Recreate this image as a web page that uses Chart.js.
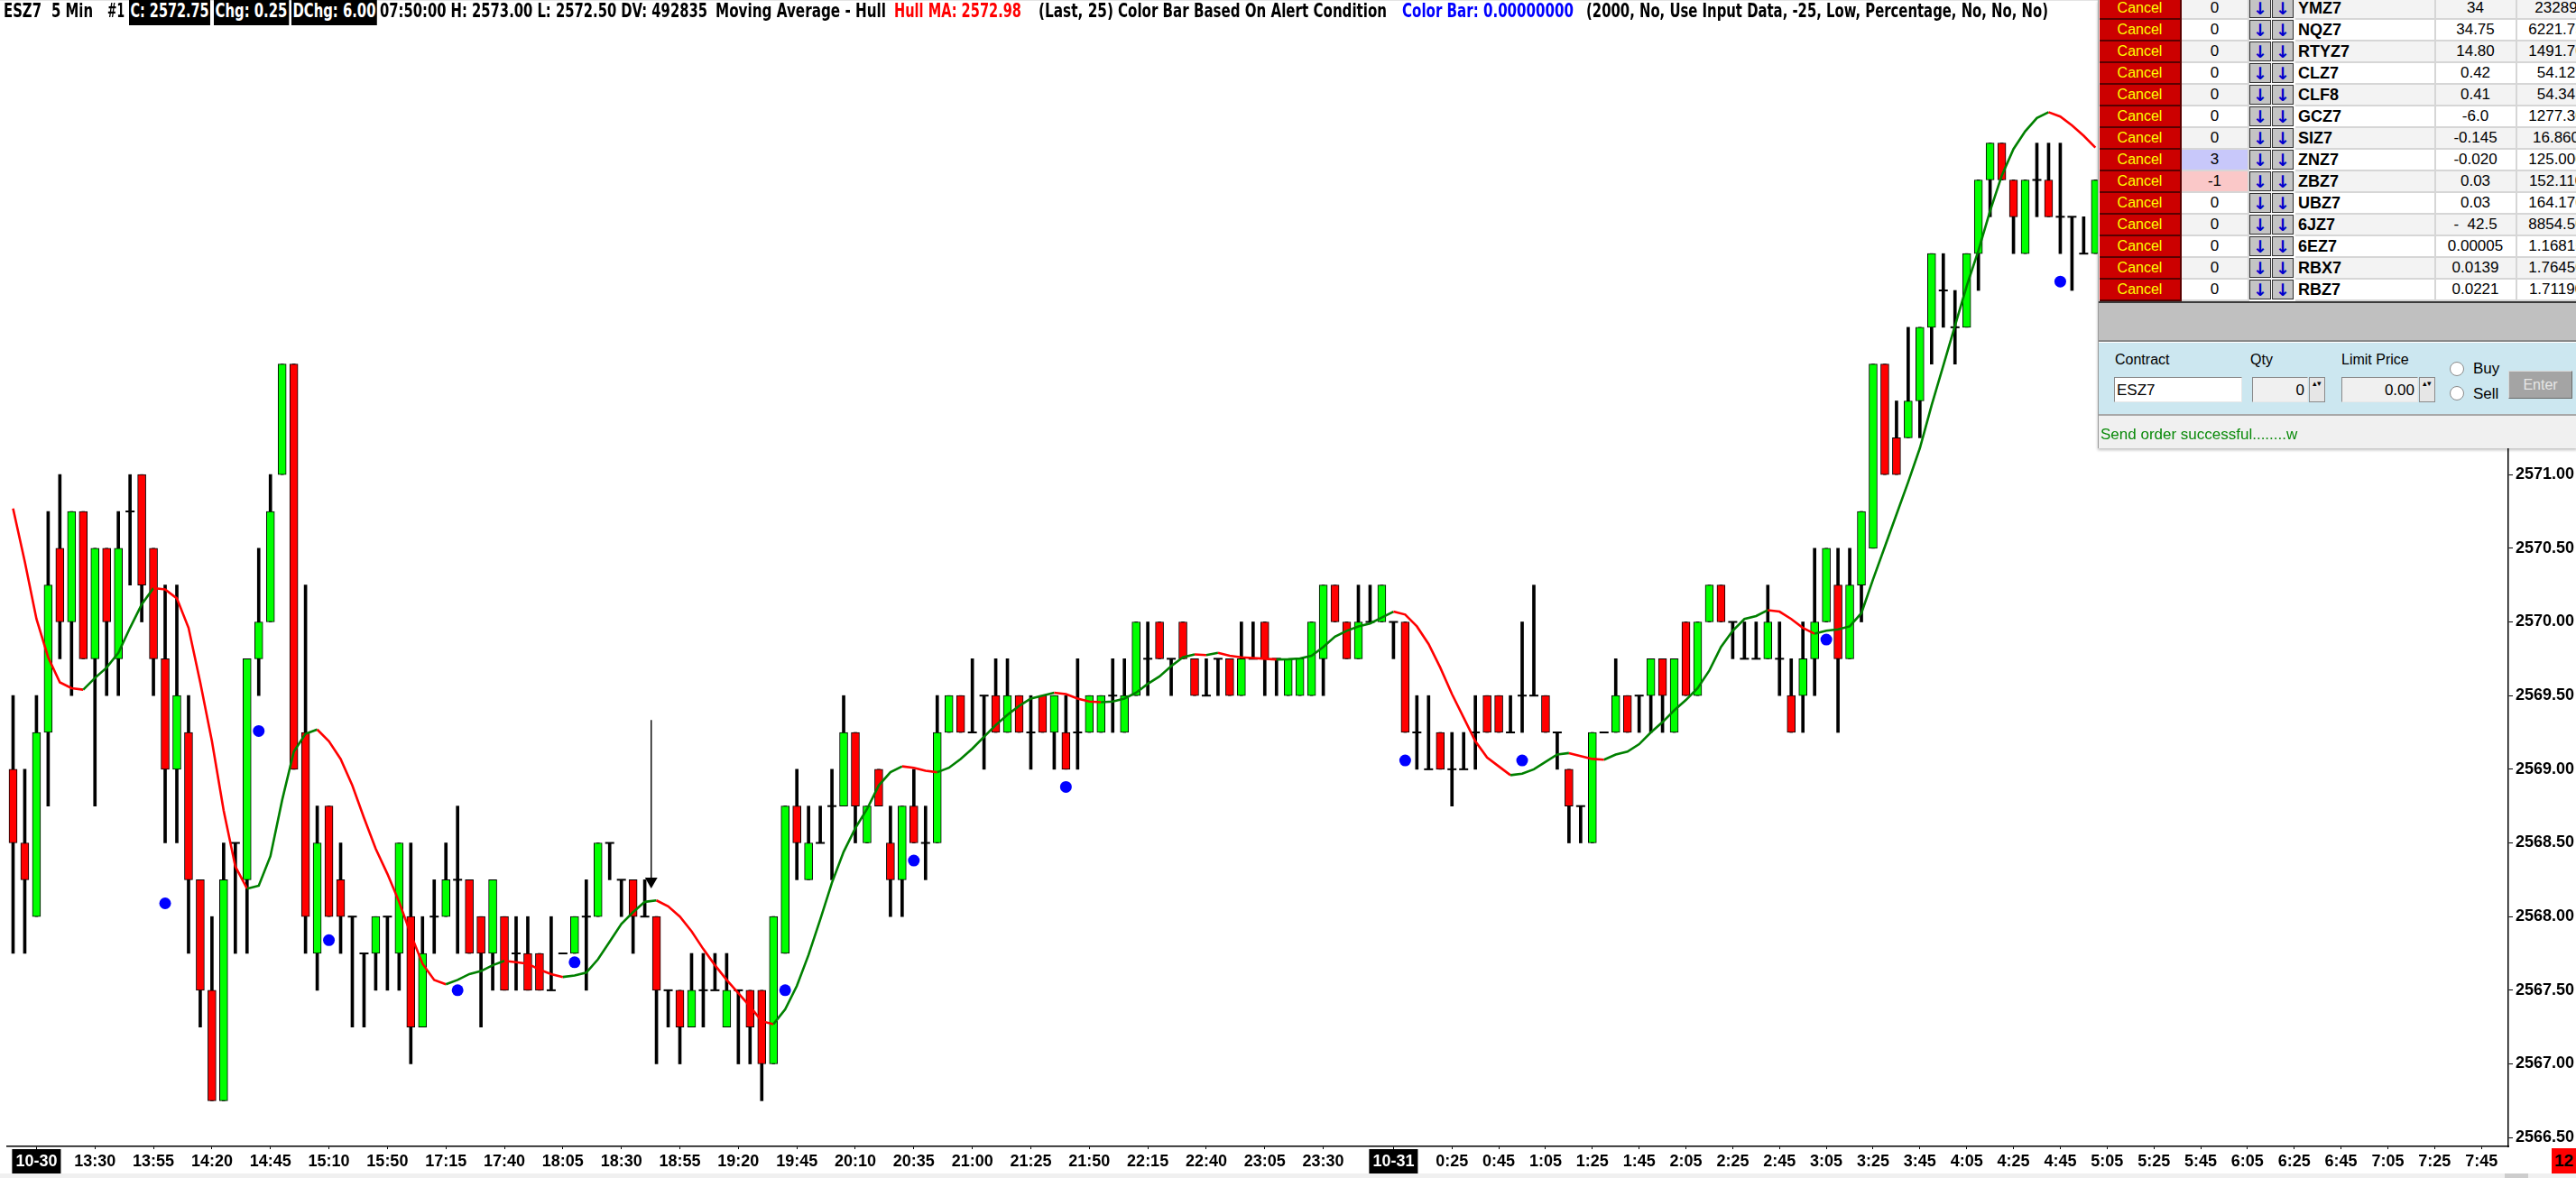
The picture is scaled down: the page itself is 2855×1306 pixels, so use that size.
<!DOCTYPE html>
<html>
<head>
<meta charset="utf-8">
<script src="https://cdn.jsdelivr.net/npm/chart.js@4.4.1/dist/chart.umd.min.js"></script>
<style>
html, body { margin: 0; padding: 0; background: #fff; width: 2855px; height: 1306px; overflow: hidden; position: relative; font-family: 'Liberation Sans', Arial, sans-serif; }
#chart { position: absolute; left: 0; top: 0; }
#topline { position: absolute; left: 0; top: 0; width: 2855px; height: 1px; background: #e4e4e4; }
.hd { position: absolute; top: 0; height: 28px; line-height: 28px; font: bold 21px 'Liberation Sans Narrow', 'DejaVu Sans Condensed', 'Liberation Sans', sans-serif; white-space: nowrap; transform-origin: 0 0; color: #000; }
.box { background: #000; color: #fff; padding: 0 2px; }
#panel { position: absolute; left: 2325px; top: 0; width: 530px; height: 497px; background: #f0f0f0; overflow: hidden; border-left: 1px solid #9a9a9a; box-shadow: 0 2px 3px rgba(0,0,0,0.25); }
.row { position: absolute; left: 0; width: 560px; height: 24px; }
.cell { position: absolute; top: 0; height: 22px; line-height: 22px; border-bottom: 2px solid #d6d6d6; border-right: 2px solid #d6d6d6; font-size: 17px; text-align: center; color: #000; white-space: nowrap; overflow: hidden; }
.cancel { background: #cc0000; color: #ffff00; font-size: 16px; border-right: 2px solid #5a0000; border-bottom: 2px solid #5a0000; }
.arr { background: #c4c4c4; color: #0000cc; font: bold 19px 'DejaVu Sans', sans-serif; border: 1px solid #333; height: 20px; line-height: 20px; }
.sym { text-align: left; font-weight: bold; font-size: 18px; padding-left: 3px; }
.lbl { position: absolute; font-size: 16px; color: #000; white-space: nowrap; }
.inp { position: absolute; height: 28px; line-height: 28px; font-size: 17px; border: 1px solid #8a8a8a; border-right-color: #e8e8e8; border-bottom-color: #e8e8e8; box-sizing: border-box; white-space: nowrap; }
.spin { position: absolute; width: 18px; height: 28px; background: #e6e6e6; border: 1px solid #8a8a8a; box-sizing: border-box; font-size: 9px; line-height: 13px; text-align: center; color: #000; }
.radio { position: absolute; width: 14px; height: 14px; border-radius: 50%; background: #fff; border: 1px solid #8a8a8a; }
</style>
</head>
<body>
<canvas id="chart" width="2855" height="1306"></canvas>
<div id="topline"></div>

<div class="hd" data-x="4" data-w="42">ESZ7</div>
<div class="hd" data-x="57" data-w="46">5 Min</div>
<div class="hd" data-x="119" data-w="19">#1</div>
<div class="hd box" data-x="143" data-w="90">C: 2572.75</div>
<div class="hd box" data-x="237" data-w="83">Chg: 0.25</div>
<div class="hd box" data-x="323" data-w="95">DChg: 6.00</div>
<div class="hd" data-x="421" data-w="363">07:50:00 H: 2573.00 L: 2572.50 DV: 492835</div>
<div class="hd" data-x="793" data-w="189">Moving Average - Hull</div>
<div class="hd" data-x="991" data-w="141" style="color:#ff0000">Hull MA: 2572.98</div>
<div class="hd" data-x="1151" data-w="83">(Last, 25)</div>
<div class="hd" data-x="1239" data-w="298">Color Bar Based On Alert Condition</div>
<div class="hd" data-x="1554" data-w="190" style="color:#0000ff">Color Bar: 0.00000000</div>
<div class="hd" data-x="1758" data-w="512">(2000, No, Use Input Data, -25, Low, Percentage, No, No, No)</div>

<div id="panel"></div>

<div style="position:absolute;left:2828px;top:1273px;width:27px;height:28px;background:#ff0000;font:bold 19px 'Liberation Sans',sans-serif;line-height:28px;padding-left:3px;box-sizing:border-box;overflow:hidden">12</div>
<div style="position:absolute;left:0;top:1301px;width:2855px;height:5px;background:#f0f0f0"></div>
<div style="position:absolute;left:2776px;top:1301px;width:26px;height:5px;background:#cdcdcd"></div>

<script>
// ---------- bars (5 min, index 0 = first bar on screen)
const opens = [
  2569.0, 2568.5, 2568.0, 2569.25, 2570.5, 2570.0, 2570.75, 2569.75, 2570.5, 2569.75,
  2570.75, 2571.0, 2570.5, 2569.75, 2569.0, 2569.25, 2568.25, 2567.5, 2566.75, 2568.5,
  2568.25, 2569.75, 2570.0, 2571.0, 2571.75, 2569.25, 2567.75, 2568.75, 2568.25, 2568.0,
  2567.75, 2567.75, 2568.0, 2567.75, 2568.0, 2567.25, 2568.0, 2568.0, 2568.25, 2568.25,
  2568.0, 2567.75, 2568.0, 2567.75, 2567.75, 2567.75, 2567.5, 2567.75, 2567.75, 2568.0,
  2568.0, 2568.5, 2568.25, 2568.25, 2568.0, 2568.0, 2567.5, 2567.5, 2567.25, 2567.5,
  2567.5, 2567.25, 2567.5, 2567.5, 2567.5, 2567.0, 2567.75, 2568.75, 2568.25, 2568.5,
  2568.75, 2568.75, 2569.25, 2568.5, 2569.0, 2568.5, 2568.25, 2568.75, 2568.5, 2568.5,
  2569.25, 2569.5, 2569.25, 2569.5, 2569.5, 2569.25, 2569.5, 2569.25, 2569.5, 2569.25,
  2569.25, 2569.25, 2569.25, 2569.25, 2569.5, 2569.25, 2569.5, 2569.75, 2570.0, 2569.75,
  2570.0, 2569.75, 2569.5, 2569.75, 2569.75, 2569.5, 2569.75, 2570.0, 2569.75, 2569.5,
  2569.5, 2569.5, 2569.75, 2570.25, 2570.0, 2569.75, 2570.0, 2570.0, 2570.0, 2570.0,
  2569.25, 2569.0, 2569.25, 2569.0, 2569.0, 2569.25, 2569.5, 2569.5, 2569.25, 2569.5,
  2569.5, 2569.5, 2569.25, 2569.0, 2568.75, 2568.5, 2569.25, 2569.25, 2569.5, 2569.5,
  2569.5, 2569.75, 2569.25, 2570.0, 2569.5, 2570.0, 2570.25, 2570.0, 2569.75, 2569.75,
  2569.75, 2569.75, 2569.5, 2569.5, 2569.75, 2570.0, 2570.25, 2569.75, 2570.25, 2570.5,
  2571.75, 2571.25, 2571.25, 2571.5, 2572.0, 2572.25, 2572.0, 2572.0, 2572.5, 2573.0,
  2573.25, 2573.0, 2572.5, 2573.0, 2573.0, 2572.75, 2572.75, 2572.5, 2572.5
]
const highs = [
  2569.5, 2569.0, 2569.5, 2570.75, 2571.0, 2570.75, 2570.75, 2570.5, 2570.5, 2570.75,
  2571.0, 2571.0, 2570.5, 2570.25, 2570.25, 2569.5, 2568.25, 2568.0, 2568.5, 2568.5,
  2569.75, 2570.5, 2571.0, 2571.75, 2571.75, 2570.25, 2568.75, 2568.75, 2568.5, 2568.0,
  2567.75, 2568.0, 2568.0, 2568.5, 2568.5, 2568.0, 2568.25, 2568.5, 2568.75, 2568.25,
  2568.0, 2568.25, 2568.0, 2568.0, 2568.0, 2567.75, 2568.0, 2567.75, 2568.0, 2568.25,
  2568.5, 2568.5, 2568.25, 2568.25, 2568.25, 2568.0, 2567.5, 2567.5, 2567.75, 2567.75,
  2567.75, 2567.75, 2567.5, 2567.5, 2567.5, 2568.0, 2568.75, 2569.0, 2568.75, 2568.75,
  2569.0, 2569.5, 2569.25, 2568.75, 2569.0, 2568.75, 2568.75, 2569.0, 2568.75, 2569.5,
  2569.5, 2569.5, 2569.75, 2569.5, 2569.75, 2569.75, 2569.5, 2569.5, 2569.5, 2569.5,
  2569.5, 2569.75, 2569.5, 2569.5, 2569.75, 2569.75, 2570.0, 2570.0, 2570.0, 2569.75,
  2570.0, 2569.75, 2569.75, 2569.75, 2569.75, 2570.0, 2570.0, 2570.0, 2569.75, 2569.75,
  2569.75, 2570.0, 2570.25, 2570.25, 2570.0, 2570.25, 2570.25, 2570.25, 2570.0, 2570.0,
  2569.5, 2569.5, 2569.25, 2569.25, 2569.25, 2569.5, 2569.5, 2569.5, 2569.5, 2570.0,
  2570.25, 2569.5, 2569.25, 2569.0, 2568.75, 2569.25, 2569.25, 2569.75, 2569.5, 2569.5,
  2569.75, 2569.75, 2569.75, 2570.0, 2570.0, 2570.25, 2570.25, 2570.0, 2570.0, 2570.0,
  2570.25, 2570.0, 2569.75, 2570.0, 2570.5, 2570.5, 2570.5, 2570.5, 2570.75, 2571.75,
  2571.75, 2571.5, 2572.0, 2572.0, 2572.5, 2572.5, 2572.25, 2572.5, 2573.0, 2573.25,
  2573.25, 2573.0, 2573.0, 2573.25, 2573.25, 2573.25, 2572.75, 2572.75, 2573.0
]
const lows = [
  2567.75, 2567.75, 2568.0, 2568.75, 2569.75, 2569.5, 2569.75, 2568.75, 2569.5, 2569.5,
  2570.25, 2570.0, 2569.5, 2568.5, 2568.5, 2567.75, 2567.25, 2566.75, 2566.75, 2567.75,
  2567.75, 2569.5, 2570.0, 2571.0, 2569.0, 2567.75, 2567.5, 2568.0, 2567.75, 2567.25,
  2567.25, 2567.5, 2567.5, 2567.5, 2567.0, 2567.25, 2567.75, 2568.0, 2567.75, 2567.75,
  2567.25, 2567.5, 2567.5, 2567.5, 2567.5, 2567.5, 2567.5, 2567.75, 2567.75, 2567.5,
  2568.0, 2568.25, 2568.0, 2567.75, 2568.0, 2567.0, 2567.25, 2567.0, 2567.25, 2567.25,
  2567.5, 2567.25, 2567.0, 2567.0, 2566.75, 2567.0, 2567.75, 2568.25, 2568.25, 2568.5,
  2568.25, 2568.75, 2568.5, 2568.5, 2568.75, 2568.0, 2568.0, 2568.5, 2568.25, 2568.5,
  2569.25, 2569.25, 2569.25, 2569.0, 2569.25, 2569.25, 2569.25, 2569.0, 2569.25, 2569.0,
  2569.0, 2569.0, 2569.25, 2569.25, 2569.25, 2569.25, 2569.5, 2569.5, 2569.75, 2569.5,
  2569.75, 2569.5, 2569.5, 2569.5, 2569.5, 2569.5, 2569.75, 2569.5, 2569.5, 2569.5,
  2569.5, 2569.5, 2569.5, 2570.0, 2569.75, 2569.75, 2570.0, 2570.0, 2569.75, 2569.25,
  2569.0, 2569.0, 2569.0, 2568.75, 2569.0, 2569.0, 2569.25, 2569.25, 2569.25, 2569.25,
  2569.5, 2569.25, 2569.0, 2568.5, 2568.5, 2568.5, 2569.25, 2569.25, 2569.25, 2569.25,
  2569.25, 2569.25, 2569.25, 2569.5, 2569.5, 2570.0, 2570.0, 2569.75, 2569.75, 2569.75,
  2569.75, 2569.5, 2569.25, 2569.25, 2569.5, 2570.0, 2569.25, 2569.75, 2570.0, 2570.5,
  2571.0, 2571.0, 2571.25, 2571.25, 2571.75, 2572.0, 2571.75, 2572.0, 2572.25, 2572.75,
  2573.0, 2572.5, 2572.5, 2572.75, 2572.75, 2572.5, 2572.25, 2572.5, 2572.5
]
const closes = [
  2568.5, 2568.25, 2569.25, 2570.25, 2570.0, 2570.75, 2569.75, 2570.5, 2570.0, 2570.5,
  2570.75, 2570.25, 2569.75, 2569.0, 2569.5, 2568.25, 2567.5, 2566.75, 2568.25, 2568.5,
  2569.75, 2570.0, 2570.75, 2571.75, 2569.0, 2568.0, 2568.5, 2568.0, 2568.0, 2568.0,
  2567.75, 2568.0, 2568.0, 2568.5, 2567.25, 2567.75, 2568.0, 2568.25, 2568.25, 2567.75,
  2567.75, 2568.25, 2567.5, 2567.75, 2567.5, 2567.5, 2567.5, 2567.75, 2568.0, 2568.0,
  2568.5, 2568.5, 2568.25, 2568.0, 2568.0, 2567.5, 2567.5, 2567.25, 2567.5, 2567.5,
  2567.5, 2567.5, 2567.5, 2567.25, 2567.0, 2568.0, 2568.75, 2568.5, 2568.5, 2568.5,
  2568.75, 2569.25, 2568.75, 2568.75, 2568.75, 2568.25, 2568.75, 2568.5, 2568.5, 2569.25,
  2569.5, 2569.25, 2569.25, 2569.5, 2569.25, 2569.5, 2569.25, 2569.25, 2569.25, 2569.5,
  2569.0, 2569.25, 2569.5, 2569.5, 2569.5, 2569.5, 2570.0, 2569.75, 2569.75, 2569.75,
  2569.75, 2569.5, 2569.5, 2569.75, 2569.5, 2569.75, 2569.75, 2569.75, 2569.75, 2569.75,
  2569.75, 2570.0, 2570.25, 2570.0, 2569.75, 2570.0, 2570.0, 2570.25, 2570.0, 2569.25,
  2569.25, 2569.0, 2569.0, 2569.0, 2569.0, 2569.25, 2569.25, 2569.25, 2569.25, 2569.5,
  2569.5, 2569.25, 2569.25, 2568.75, 2568.75, 2569.25, 2569.25, 2569.5, 2569.25, 2569.5,
  2569.75, 2569.5, 2569.75, 2569.5, 2570.0, 2570.25, 2570.0, 2570.0, 2569.75, 2569.75,
  2570.0, 2569.75, 2569.25, 2569.75, 2570.0, 2570.5, 2569.75, 2570.25, 2570.75, 2571.75,
  2571.0, 2571.0, 2571.5, 2572.0, 2572.5, 2572.25, 2572.0, 2572.5, 2573.0, 2573.25,
  2573.0, 2572.75, 2573.0, 2573.0, 2572.75, 2572.75, 2572.75, 2572.5, 2573.0
]

// ---------- Hull MA (Last, 25)
const hullMA = [
  2570.77, 2570.41, 2570.02, 2569.76, 2569.59, 2569.55, 2569.54, 2569.62, 2569.69, 2569.79,
  2569.96, 2570.12, 2570.23, 2570.22, 2570.16, 2569.96, 2569.59, 2569.19, 2568.72, 2568.34,
  2568.19, 2568.21, 2568.41, 2568.79, 2569.12, 2569.24, 2569.27, 2569.19, 2569.07, 2568.89,
  2568.67, 2568.46, 2568.29, 2568.10, 2567.88, 2567.68, 2567.57, 2567.54, 2567.57, 2567.61,
  2567.63, 2567.67, 2567.70, 2567.69, 2567.68, 2567.64, 2567.61, 2567.59, 2567.60, 2567.62,
  2567.71, 2567.83, 2567.95, 2568.03, 2568.10, 2568.11, 2568.07, 2568.00, 2567.90, 2567.78,
  2567.67, 2567.57, 2567.48, 2567.39, 2567.29, 2567.27, 2567.37, 2567.53, 2567.74, 2567.98,
  2568.23, 2568.44, 2568.60, 2568.73, 2568.89, 2568.98, 2569.02, 2569.01, 2568.99, 2568.98,
  2569.01, 2569.07, 2569.14, 2569.22, 2569.30, 2569.37, 2569.43, 2569.48, 2569.50, 2569.52,
  2569.51, 2569.48, 2569.46, 2569.455, 2569.46, 2569.48, 2569.52, 2569.58, 2569.63, 2569.70,
  2569.76, 2569.78, 2569.775, 2569.79, 2569.77, 2569.76, 2569.755, 2569.75, 2569.745, 2569.747,
  2569.752, 2569.77, 2569.83, 2569.90, 2569.94, 2569.97, 2569.99, 2570.03, 2570.07, 2570.05,
  2569.97, 2569.85, 2569.69, 2569.51, 2569.35, 2569.19, 2569.08, 2569.02, 2568.96, 2568.97,
  2569.00, 2569.05, 2569.10, 2569.11, 2569.09, 2569.07, 2569.065, 2569.10, 2569.12, 2569.17,
  2569.25, 2569.32, 2569.40, 2569.47, 2569.55, 2569.67, 2569.83, 2569.94, 2570.02, 2570.04,
  2570.08, 2570.07, 2570.02, 2569.96, 2569.92, 2569.94, 2569.95, 2569.97, 2570.06, 2570.29,
  2570.51, 2570.73, 2570.95, 2571.18, 2571.47, 2571.74, 2572.01, 2572.28, 2572.52, 2572.79,
  2573.03, 2573.21, 2573.33, 2573.42, 2573.46, 2573.43, 2573.37, 2573.30, 2573.22
]

// ---------- alert dots
const dotBars = [13, 21, 27, 38, 48, 66, 77, 90, 119, 129, 155, 175]
const dotValues = [2568.09, 2569.26, 2567.84, 2567.5, 2567.69, 2567.5, 2568.38, 2568.88, 2569.06, 2569.06, 2569.88, 2572.31]

// ---------- drawn arrow (bar position, top price, head price)
const arrowBar = [54.55, 54.55]
const arrowPrice = [2569.335, 2568.24]

// ---------- axes
const xTickBars = [2, 7, 12, 17, 22, 27, 32, 37, 42, 47, 52, 57, 62, 67, 72, 77, 82, 87, 92, 97, 102, 107, 112,
  118, 123, 127, 131, 135, 139, 143, 147, 151, 155, 159, 163, 167, 171, 175, 179, 183, 187, 191, 195, 199, 203, 207, 211]
const xTickText = ['10-30', '13:30', '13:55', '14:20', '14:45', '15:10', '15:50', '17:15', '17:40', '18:05', '18:30',
  '18:55', '19:20', '19:45', '20:10', '20:35', '21:00', '21:25', '21:50', '22:15', '22:40', '23:05', '23:30',
  '10-31', '0:25', '0:45', '1:05', '1:25', '1:45', '2:05', '2:25', '2:45', '3:05', '3:25', '3:45', '4:05',
  '4:25', '4:45', '5:05', '5:25', '5:45', '6:05', '6:25', '6:45', '7:05', '7:25', '7:45']
const yTickValues = [2566.5, 2567, 2567.5, 2568, 2568.5, 2569, 2569.5, 2570, 2570.5, 2571, 2571.5, 2572, 2572.5, 2573, 2573.5, 2574]

// ---------- order window
const panelSymbols = ['YMZ7', 'NQZ7', 'RTYZ7', 'CLZ7', 'CLF8', 'GCZ7', 'SIZ7', 'ZNZ7', 'ZBZ7', 'UBZ7', '6JZ7', '6EZ7', 'RBX7', 'RBZ7']
const panelQty = ['0', '0', '0', '0', '0', '0', '0', '3', '-1', '0', '0', '0', '0', '0']
const panelChg = ['34', '34.75', '14.80', '0.42', '0.41', '-6.0', '-0.145', '-0.020', '0.03', '0.03', '-\u00a0\u00a042.5', '0.00005', '0.0139', '0.0221']
const panelLast = ['23289', '6221.75', '1491.70', '54.12', '54.34', '1277.30', '16.860', '125.000', '152.110', '164.170', '8854.50', '1.16815', '1.76450', '1.71190']


const GREEN = '#00ff00'
const RED = '#ff0000'

const idx = opens.map((v, i) => i)

const wickData = idx.map(i => ({ x: i, y: [lows[i], highs[i]] }))

const bodyIdx = idx.filter(i => opens[i] !== closes[i])
const bodyData = bodyIdx.map(i => ({ x: i, y: [Math.min(opens[i], closes[i]), Math.max(opens[i], closes[i])] }))
const bodyColors = bodyIdx.map(i => closes[i] > opens[i] ? GREEN : RED)

const dojiData = idx.filter(i => opens[i] === closes[i]).map(i => ({ x: i, y: closes[i] }))

const isDate = i => xTickText[i] && xTickText[i].indexOf('-') > 0


new Chart(document.getElementById('chart'), {

  type: 'bar',

  data: {
    datasets: [

      {
        label: 'dots',
        type: 'line',
        data: dotBars.map((b, i) => ({ x: b, y: dotValues[i] })),
        showLine: false,
        pointRadius: 6.5,
        pointBorderWidth: 0,
        pointBackgroundColor: '#0000ff',
        order: 0
      },

      {
        label: 'arrow',
        type: 'line',
        data: arrowBar.map((b, i) => ({ x: b, y: arrowPrice[i] })),
        borderColor: '#000',
        borderWidth: 1.4,
        pointStyle: 'triangle',
        pointRotation: 180,
        pointRadius: c => c.dataIndex === 1 ? 8 : 0,
        pointBorderWidth: 0,
        pointBackgroundColor: '#000',
        order: 1
      },

      {
        label: 'Hull MA',
        type: 'line',
        data: hullMA.map((v, i) => ({ x: i, y: v })),
        borderWidth: 2.6,
        borderColor: '#008000',
        pointRadius: 0,
        tension: 0,
        segment: {
          borderColor: c => c.p1.parsed.y >= c.p0.parsed.y ? '#008000' : '#ff0000'
        },
        order: 2
      },

      {
        label: 'doji',
        type: 'line',
        data: dojiData,
        showLine: false,
        pointStyle: 'line',
        pointRadius: 5,
        pointBorderWidth: 2,
        pointBorderColor: '#000',
        order: 3
      },

      {
        label: 'body',
        data: bodyData,
        backgroundColor: bodyColors,
        borderColor: '#000',
        borderWidth: 1,
        borderSkipped: false,
        barThickness: 9,
        grouped: false,
        order: 4
      },

      {
        label: 'wick',
        data: wickData,
        backgroundColor: '#000',
        borderWidth: 0,
        barThickness: 3,
        grouped: false,
        order: 5
      }
    ]
  },

  options: {
    responsive: false,
    animation: false,
    devicePixelRatio: 1,
    layout: { padding: { top: 28, left: 0, right: 0, bottom: 0 } },
    plugins: {
      legend: { display: false },
      tooltip: { enabled: false }
    },
    scales: {
      x: {
        type: 'linear',
        min: -0.5,
        max: 213.3,
        offset: false,
        afterBuildTicks: s => { s.ticks = xTickBars.map(v => ({ value: v })) },
        afterFit: s => { s.height = 35 },
        grid: { display: true, drawOnChartArea: false, drawTicks: true, tickLength: 3, color: '#000', offset: false },
        border: { display: true, color: '#000', width: 1.5 },
        ticks: {
          autoSkip: false,
          maxRotation: 0,
          padding: 3,
          callback: (v, i) => xTickText[i],
          color: c => isDate(c.index) ? '#fff' : '#000',
          showLabelBackdrop: c => isDate(c.index),
          backdropColor: '#000',
          backdropPadding: { x: 4, y: 3 },
          font: { family: "'Liberation Sans', Arial, sans-serif", size: 18, weight: 'bold' }
        }
      },
      y: {
        type: 'linear',
        position: 'right',
        min: 2566.44,
        max: 2574.05,
        afterBuildTicks: s => { s.ticks = yTickValues.map(v => ({ value: v })) },
        afterFit: s => { s.width = 75 },
        grid: { display: true, drawOnChartArea: false, drawTicks: true, tickLength: 5, color: '#000' },
        border: { display: true, color: '#000', width: 1.5 },
        ticks: {
          padding: 3,
          color: '#000',
          callback: v => Number(v).toFixed(2),
          font: { family: "'Liberation Sans', Arial, sans-serif", size: 18, weight: 'bold' }
        }
      }
    }
  }
})


// ---------- header: squeeze each text run to its width in the screenshot
document.querySelectorAll('.hd').forEach(el => {
  el.style.left = el.dataset.x + 'px'
  const w = el.getBoundingClientRect().width
  el.style.transform = 'scaleX(' + (Number(el.dataset.w) / w) + ')'
})


// ---------- order window
const panel = document.getElementById('panel')

function add(parent, cls, css, text) {
  const d = document.createElement('div')
  if (cls) d.className = cls
  d.style.cssText = css
  if (text !== undefined) d.textContent = text
  parent.appendChild(d)
  return d
}

panelSymbols.forEach((sym, k) => {
  const row = add(panel, 'row', 'top:' + (-2 + 24 * k) + 'px;background:' + (k % 2 ? '#ffffff' : '#f3f3f3'))
  add(row, 'cell cancel', 'left:1px;width:89px', 'Cancel')
  let qbg = ''
  if (panelQty[k] === '3') qbg = 'background:#c8c8fa;'
  if (panelQty[k] === '-1') qbg = 'background:#fac8c8;'
  add(row, 'cell', qbg + 'left:92px;width:73px', panelQty[k])
  add(row, 'cell arr', 'left:167px;width:22px', '\u2193')
  add(row, 'cell arr', 'left:192px;width:22px', '\u2193')
  add(row, 'cell sym', 'left:218px;width:151px', sym)
  add(row, 'cell', 'left:373px;width:89px', panelChg[k])
  add(row, 'cell', 'left:464px;width:86px', panelLast[k])
})

add(panel, '', 'position:absolute;left:0;top:334px;width:530px;height:2px;background:#3a3a3a')
add(panel, '', 'position:absolute;left:0;top:336px;width:530px;height:41px;background:#c0c0c0')
add(panel, '', 'position:absolute;left:0;top:377px;width:530px;height:2px;background:#8a8a8a')
add(panel, '', 'position:absolute;left:0;top:379px;width:530px;height:80px;background:#cce7f0;border-top:1px solid #fff;box-sizing:border-box')
add(panel, 'lbl', 'left:18px;top:390px', 'Contract')
add(panel, 'lbl', 'left:168px;top:390px', 'Qty')
add(panel, 'lbl', 'left:269px;top:390px', 'Limit Price')
add(panel, 'inp', 'left:17px;top:418px;width:142px;background:#fff;padding-left:2px', 'ESZ7')
add(panel, 'inp', 'left:170px;top:418px;width:62px;background:#f0f0f0;text-align:right;padding-right:3px', '0')
add(panel, 'spin', 'left:233px;top:418px', '\u25b4\u25be')
add(panel, 'inp', 'left:269px;top:418px;width:85px;background:#f0f0f0;text-align:right;padding-right:3px', '0.00')
add(panel, 'spin', 'left:355px;top:418px', '\u25b4\u25be')
add(panel, 'radio', 'left:389px;top:401px')
add(panel, 'radio', 'left:389px;top:428px')
add(panel, 'lbl', 'left:415px;top:399px;font-size:17px', 'Buy')
add(panel, 'lbl', 'left:415px;top:427px;font-size:17px', 'Sell')
add(panel, '', 'position:absolute;left:454px;top:411px;width:71px;height:31px;background:#a4a4a4;border:1px solid #d8d8d8;border-right-color:#6a6a6a;border-bottom-color:#6a6a6a;box-sizing:border-box;color:#e6e6e6;font-size:16px;line-height:29px;text-align:center', 'Enter')
add(panel, '', 'position:absolute;left:0;top:459px;width:530px;height:2px;background:#a8a8a8')
add(panel, 'lbl', 'left:2px;top:472px;color:#0a8a0a;font-size:17px', 'Send order successful........w')
</script>
</body>
</html>
